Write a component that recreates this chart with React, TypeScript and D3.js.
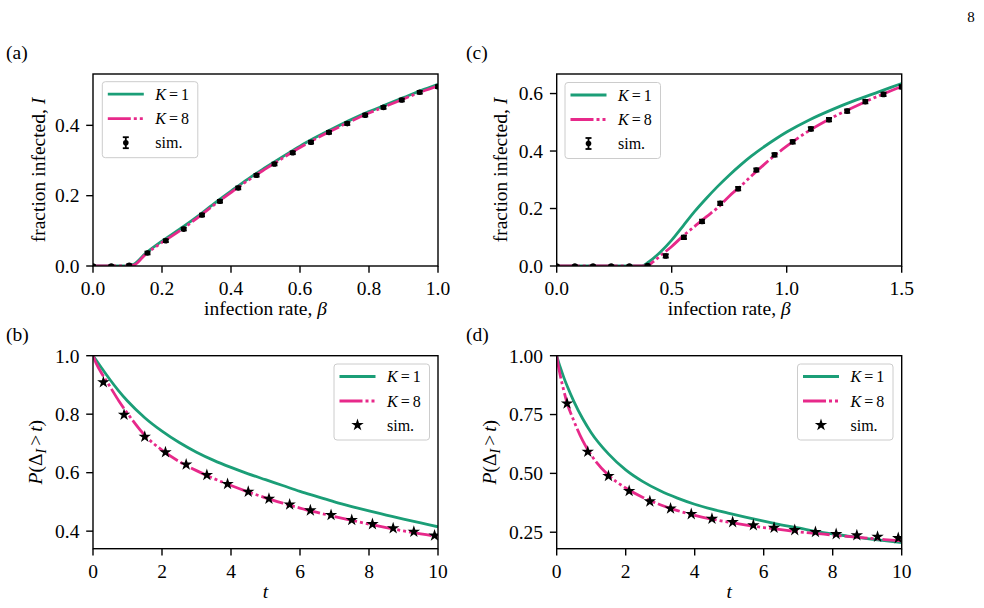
import React from "react";
import * as d3 from "d3";

const W = 984;
const H = 608;
const GREEN = "#1b9e77";
const PINK = "#e7298a";
const FONT = "'Liberation Serif', 'DejaVu Serif', serif";
const PINK_DASH = "23,3,3,3,3,3";

// ---------- panel (a): fraction infected vs infection rate ----------
const betaGridA = [0, 0.05, 0.1, 0.12, 0.15, 0.2, 0.25, 0.3, 0.35, 0.4, 0.45, 0.5, 0.55, 0.6, 0.65, 0.7, 0.75, 0.8, 0.85, 0.9, 0.95, 1.0];
const infA_K1 = [0, 0, 0, 0.006, 0.034, 0.071, 0.104, 0.139, 0.177, 0.213, 0.248, 0.280, 0.311, 0.341, 0.368, 0.393, 0.417, 0.439, 0.459, 0.479, 0.499, 0.517];
const infA_K8 = [0, 0, 0, 0.003, 0.031, 0.067, 0.099, 0.135, 0.173, 0.209, 0.244, 0.276, 0.307, 0.337, 0.364, 0.389, 0.413, 0.435, 0.455, 0.475, 0.495, 0.512];
const betaSimA = [0, 0.053, 0.105, 0.158, 0.211, 0.263, 0.316, 0.368, 0.421, 0.474, 0.526, 0.579, 0.632, 0.684, 0.737, 0.789, 0.842, 0.895, 0.947, 1.0];
const infSimA = [0, 0, 0.002, 0.037, 0.072, 0.105, 0.145, 0.184, 0.222, 0.258, 0.290, 0.322, 0.352, 0.380, 0.405, 0.429, 0.451, 0.472, 0.494, 0.510];
const errSimA = [0.002, 0.002, 0.003, 0.004, 0.004, 0.004, 0.004, 0.004, 0.004, 0.004, 0.004, 0.004, 0.004, 0.004, 0.004, 0.004, 0.004, 0.004, 0.004, 0.004];

// ---------- panel (c): fraction infected vs infection rate ----------
const betaGridC = [0, 0.2, 0.37, 0.4, 0.45, 0.5, 0.55, 0.6, 0.65, 0.7, 0.75, 0.8, 0.85, 0.9, 0.95, 1.0, 1.1, 1.2, 1.3, 1.4, 1.5];
const infC_K1 = [0, 0, 0, 0.014, 0.048, 0.09, 0.14, 0.19, 0.235, 0.277, 0.316, 0.352, 0.385, 0.414, 0.441, 0.466, 0.509, 0.545, 0.577, 0.606, 0.635];
const betaGridC8 = [0, 0.2, 0.39, 0.42, 0.45, 0.5, 0.55, 0.6, 0.65, 0.7, 0.75, 0.8, 0.85, 0.9, 0.95, 1.0, 1.1, 1.2, 1.3, 1.4, 1.5];
const infC_K8 = [0, 0, 0, 0.015, 0.035, 0.068, 0.105, 0.138, 0.171, 0.203, 0.243, 0.278, 0.316, 0.352, 0.386, 0.417, 0.472, 0.517, 0.556, 0.592, 0.625];
const betaSimC = [0, 0.079, 0.158, 0.237, 0.316, 0.395, 0.474, 0.553, 0.632, 0.711, 0.789, 0.868, 0.947, 1.026, 1.105, 1.184, 1.263, 1.342, 1.421, 1.5];
const infSimC = [0, 0, 0, 0, 0, 0.002, 0.035, 0.100, 0.155, 0.218, 0.269, 0.334, 0.387, 0.432, 0.477, 0.509, 0.539, 0.572, 0.597, 0.623];
const errSimC = [0.002, 0.002, 0.002, 0.002, 0.002, 0.003, 0.006, 0.006, 0.006, 0.006, 0.006, 0.006, 0.006, 0.006, 0.006, 0.006, 0.006, 0.006, 0.006, 0.006];

// ---------- panel (b): survival of infectious periods ----------
const tGridB = [0, 0.1, 0.25, 0.5, 0.75, 1, 1.5, 2, 2.5, 3, 3.5, 4, 4.5, 5, 5.5, 6, 6.5, 7, 7.5, 8, 8.5, 9, 9.5, 10];
const survB_K1 = [1.0, 0.983, 0.958, 0.917, 0.879, 0.845, 0.788, 0.742, 0.703, 0.670, 0.642, 0.618, 0.596, 0.576, 0.556, 0.536, 0.518, 0.500, 0.484, 0.469, 0.455, 0.441, 0.428, 0.415];
const survB_K8 = [1.0, 0.972, 0.940, 0.893, 0.845, 0.803, 0.728, 0.677, 0.638, 0.607, 0.580, 0.556, 0.534, 0.514, 0.496, 0.479, 0.464, 0.450, 0.437, 0.424, 0.412, 0.401, 0.391, 0.381];
const tSimB = [0.3, 0.9, 1.5, 2.1, 2.7, 3.3, 3.9, 4.5, 5.1, 5.7, 6.3, 6.9, 7.5, 8.1, 8.7, 9.3, 9.9];
const survSimB = [0.909, 0.798, 0.723, 0.670, 0.628, 0.592, 0.561, 0.535, 0.511, 0.491, 0.471, 0.455, 0.438, 0.424, 0.410, 0.398, 0.385];

// ---------- panel (d): survival of infectious periods ----------
const tGridD = [0, 0.05, 0.1, 0.2, 0.3, 0.5, 0.75, 1, 1.5, 2, 2.5, 3, 3.5, 4, 4.5, 5, 5.5, 6, 6.5, 7, 7.5, 8, 8.5, 9, 9.5, 10];
const survD_K1 = [1.0, 0.975, 0.952, 0.91, 0.872, 0.805, 0.733, 0.673, 0.583, 0.515, 0.465, 0.426, 0.395, 0.369, 0.348, 0.330, 0.313, 0.297, 0.281, 0.268, 0.254, 0.243, 0.232, 0.223, 0.214, 0.206];
const survD_K8 = [1.0, 0.955, 0.918, 0.855, 0.80, 0.722, 0.64, 0.578, 0.492, 0.438, 0.398, 0.367, 0.342, 0.322, 0.306, 0.292, 0.280, 0.270, 0.261, 0.252, 0.245, 0.238, 0.231, 0.225, 0.219, 0.213];
const tSimD = [0.3, 0.9, 1.5, 2.1, 2.7, 3.3, 3.9, 4.5, 5.1, 5.7, 6.3, 6.9, 7.5, 8.1, 8.7, 9.3, 9.9];
const survSimD = [0.797, 0.592, 0.489, 0.425, 0.381, 0.351, 0.327, 0.307, 0.293, 0.280, 0.269, 0.259, 0.251, 0.242, 0.237, 0.231, 0.225];

// ---------- axis ticks ----------
const ticksBetaA = [0, 0.2, 0.4, 0.6, 0.8, 1.0];
const ticksInfA = [0, 0.2, 0.4];
const ticksBetaC = [0, 0.5, 1.0, 1.5];
const ticksInfC = [0, 0.2, 0.4, 0.6];
const ticksT = [0, 2, 4, 6, 8, 10];
const ticksSurvB = [0.4, 0.6, 0.8, 1.0];
const ticksSurvD = [0.25, 0.5, 0.75, 1.0];

const TICK_FS = 19.5;
const LEG_FS = 16;

type Box = { left: number; right: number; top: number; bottom: number };

function KLabel({ x, y, k }: { x: number; y: number; k: number }) {
  return (
    <text x={x} y={y} fontSize={LEG_FS} fontFamily={FONT}>
      <tspan fontStyle="italic">K</tspan>
      <tspan dx={3}>=</tspan>
      <tspan dx={3}>{k}</tspan>
    </text>
  );
}

function Legend({ left, top, marker }: { left: number; top: number; marker: "err" | "star" }) {
  const rows = [top + 12.5, top + 37, top + 61];
  const lx0 = left + 5.5;
  const lx1 = left + 41.5;
  const mx = (lx0 + lx1) / 2;
  const tx = left + 53;
  const star = d3.symbol(d3.symbolStar, 48)() as string;
  return (
    <g>
      <rect x={left} y={top} width={95.5} height={76} rx={3} fill="white" fillOpacity={0.8} stroke="#cccccc" strokeWidth={1} />
      <line x1={lx0} x2={lx1} y1={rows[0]} y2={rows[0]} stroke={GREEN} strokeWidth={2.8} />
      <line x1={lx0} x2={lx1} y1={rows[1]} y2={rows[1]} stroke={PINK} strokeWidth={2.8} strokeDasharray={PINK_DASH} />
      {marker === "err" ? (
        <g stroke="black" strokeWidth={1.8}>
          <line x1={mx} x2={mx} y1={rows[2] - 5.5} y2={rows[2] + 5.5} />
          <line x1={mx - 3} x2={mx + 3} y1={rows[2] - 5.5} y2={rows[2] - 5.5} />
          <line x1={mx - 3} x2={mx + 3} y1={rows[2] + 5.5} y2={rows[2] + 5.5} />
          <circle cx={mx} cy={rows[2]} r={2.8} fill="black" stroke="none" />
        </g>
      ) : (
        <path d={star} transform={`translate(${mx},${rows[2]})`} fill="black" />
      )}
      <KLabel x={tx} y={rows[0] + 5.5} k={1} />
      <KLabel x={tx} y={rows[1] + 5.5} k={8} />
      <text x={tx} y={rows[2] + 5.5} fontSize={LEG_FS} fontFamily={FONT}>sim.</text>
    </g>
  );
}

type PanelProps = {
  id: string;
  box: Box;
  xDomain: [number, number];
  yDomain: [number, number];
  xTicks: number[];
  yTicks: number[];
  xFmt: (v: number) => string;
  yFmt: (v: number) => string;
  k1: { x: number[]; y: number[] };
  k8: { x: number[]; y: number[] };
  simX: number[];
  simY: number[];
  simErr?: number[];
  legendLeft: number;
  legendTop: number;
  xLabel: React.ReactNode;
  yLabel: React.ReactNode;
  yLabelX: number;
};

function Panel(p: PanelProps) {
  const { box } = p;
  const xs = d3.scaleLinear().domain(p.xDomain).range([box.left, box.right]);
  const ys = d3.scaleLinear().domain(p.yDomain).range([box.bottom, box.top]);
  const line = d3
    .line<[number, number]>()
    .x((d) => xs(d[0]))
    .y((d) => ys(d[1]))
    .curve(d3.curveMonotoneX);
  const pts = (c: { x: number[]; y: number[] }) => c.x.map((v, i) => [v, c.y[i]] as [number, number]);
  const star = d3.symbol(d3.symbolStar, 48)() as string;
  const clip = `clip-${p.id}`;
  const tickLen = 6.8;
  const cy = (box.top + box.bottom) / 2;
  return (
    <g>
      <defs>
        <clipPath id={clip}>
          <rect x={box.left} y={box.top} width={box.right - box.left} height={box.bottom - box.top} />
        </clipPath>
      </defs>
      <g clipPath={`url(#${clip})`}>
        <path d={line(pts(p.k1)) as string} fill="none" stroke={GREEN} strokeWidth={2.8} />
        <path d={line(pts(p.k8)) as string} fill="none" stroke={PINK} strokeWidth={2.8} strokeDasharray={PINK_DASH} />
        {p.simErr
          ? p.simX.map((x, i) => {
              const px = xs(x);
              const lo = ys(p.simY[i] - p.simErr![i]);
              const hi = ys(p.simY[i] + p.simErr![i]);
              return (
                <g key={i} stroke="black" strokeWidth={1.8}>
                  <line x1={px} x2={px} y1={lo} y2={hi} />
                  <line x1={px - 3} x2={px + 3} y1={lo} y2={lo} />
                  <line x1={px - 3} x2={px + 3} y1={hi} y2={hi} />
                  <circle cx={px} cy={ys(p.simY[i])} r={2.8} fill="black" stroke="none" />
                </g>
              );
            })
          : p.simX.map((x, i) => (
              <path key={i} d={star} transform={`translate(${xs(x)},${ys(p.simY[i])})`} fill="black" />
            ))}
      </g>
      <rect x={box.left} y={box.top} width={box.right - box.left} height={box.bottom - box.top} fill="none" stroke="black" strokeWidth={1.4} />
      {p.xTicks.map((t) => (
        <g key={`x${t}`}>
          <line x1={xs(t)} x2={xs(t)} y1={box.bottom} y2={box.bottom + tickLen} stroke="black" strokeWidth={1.4} />
          <text x={xs(t)} y={box.bottom + 29} textAnchor="middle" fontSize={TICK_FS} fontFamily={FONT}>
            {p.xFmt(t)}
          </text>
        </g>
      ))}
      {p.yTicks.map((t) => (
        <g key={`y${t}`}>
          <line x1={box.left - tickLen} x2={box.left} y1={ys(t)} y2={ys(t)} stroke="black" strokeWidth={1.4} />
          <text x={box.left - 13.6} y={ys(t) + 6.8} textAnchor="end" fontSize={TICK_FS} fontFamily={FONT}>
            {p.yFmt(t)}
          </text>
        </g>
      ))}
      <text x={(box.left + box.right) / 2} y={box.bottom + 49} textAnchor="middle" fontSize={TICK_FS} fontFamily={FONT}>
        {p.xLabel}
      </text>
      <text transform={`translate(${p.yLabelX},${cy}) rotate(-90)`} textAnchor="middle" fontSize={TICK_FS} fontFamily={FONT}>
        {p.yLabel}
      </text>
      <Legend left={p.legendLeft} top={p.legendTop} marker={p.simErr ? "err" : "star"} />
    </g>
  );
}

const fmt1 = d3.format(".1f");
const fmt2 = d3.format(".2f");
const fmt0 = d3.format("d");

const betaLabel = (
  <>
    <tspan>infection rate, </tspan>
    <tspan fontStyle="italic">β</tspan>
  </>
);
const infLabel = (
  <>
    <tspan>fraction infected, </tspan>
    <tspan fontStyle="italic">I</tspan>
  </>
);
const tLabel = <tspan fontStyle="italic">t</tspan>;
const survLabel = (
  <>
    <tspan fontStyle="italic">P</tspan>
    <tspan>(Δ</tspan>
    <tspan fontStyle="italic" fontSize={14} dy={4}>I</tspan>
    <tspan dy={-4} dx={3}>{">"}</tspan>
    <tspan dx={3} fontStyle="italic">t</tspan>
    <tspan>)</tspan>
  </>
);

export default function App() {
  const boxA: Box = { left: 93, right: 438, top: 74, bottom: 266 };
  const boxC: Box = { left: 556.7, right: 901.7, top: 74, bottom: 266 };
  const boxB: Box = { left: 93, right: 438, top: 355.7, bottom: 548.7 };
  const boxD: Box = { left: 556.7, right: 901.7, top: 355.7, bottom: 548.7 };
  return (
    <svg width={W} height={H} style={{ position: "absolute", left: 0, top: 0, background: "white" }}>
      <rect x={0} y={0} width={W} height={H} fill="white" />
      <text x={971} y={22} textAnchor="middle" fontSize={15} fontFamily={FONT}>8</text>
      <text x={6} y={59} fontSize={TICK_FS} fontFamily={FONT}>(a)</text>
      <text x={466} y={59} fontSize={TICK_FS} fontFamily={FONT}>(c)</text>
      <text x={6} y={341} fontSize={TICK_FS} fontFamily={FONT}>(b)</text>
      <text x={466} y={341} fontSize={TICK_FS} fontFamily={FONT}>(d)</text>
      <Panel
        id="a"
        box={boxA}
        xDomain={[0, 1]}
        yDomain={[0, 0.546]}
        xTicks={ticksBetaA}
        yTicks={ticksInfA}
        xFmt={fmt1}
        yFmt={fmt1}
        k1={{ x: betaGridA, y: infA_K1 }}
        k8={{ x: betaGridA, y: infA_K8 }}
        simX={betaSimA}
        simY={infSimA}
        simErr={errSimA}
        legendLeft={102.3}
        legendTop={81.7}
        xLabel={betaLabel}
        yLabel={infLabel}
        yLabelX={45}
      />
      <Panel
        id="c"
        box={boxC}
        xDomain={[0, 1.5]}
        yDomain={[0, 0.668]}
        xTicks={ticksBetaC}
        yTicks={ticksInfC}
        xFmt={fmt1}
        yFmt={fmt1}
        k1={{ x: betaGridC, y: infC_K1 }}
        k8={{ x: betaGridC8, y: infC_K8 }}
        simX={betaSimC}
        simY={infSimC}
        simErr={errSimC}
        legendLeft={565}
        legendTop={82.5}
        xLabel={betaLabel}
        yLabel={infLabel}
        yLabelX={507}
      />
      <Panel
        id="b"
        box={boxB}
        xDomain={[0, 10]}
        yDomain={[0.34, 1.0]}
        xTicks={ticksT}
        yTicks={ticksSurvB}
        xFmt={fmt0}
        yFmt={fmt1}
        k1={{ x: tGridB, y: survB_K1 }}
        k8={{ x: tGridB, y: survB_K8 }}
        simX={tSimB}
        simY={survSimB}
        legendLeft={334}
        legendTop={364}
        xLabel={tLabel}
        yLabel={survLabel}
        yLabelX={42}
      />
      <Panel
        id="d"
        box={boxD}
        xDomain={[0, 10]}
        yDomain={[0.18, 1.0]}
        xTicks={ticksT}
        yTicks={ticksSurvD}
        xFmt={fmt0}
        yFmt={fmt2}
        k1={{ x: tGridD, y: survD_K1 }}
        k8={{ x: tGridD, y: survD_K8 }}
        simX={tSimD}
        simY={survSimD}
        legendLeft={797.5}
        legendTop={364}
        xLabel={tLabel}
        yLabel={survLabel}
        yLabelX={496}
      />
    </svg>
  );
}
